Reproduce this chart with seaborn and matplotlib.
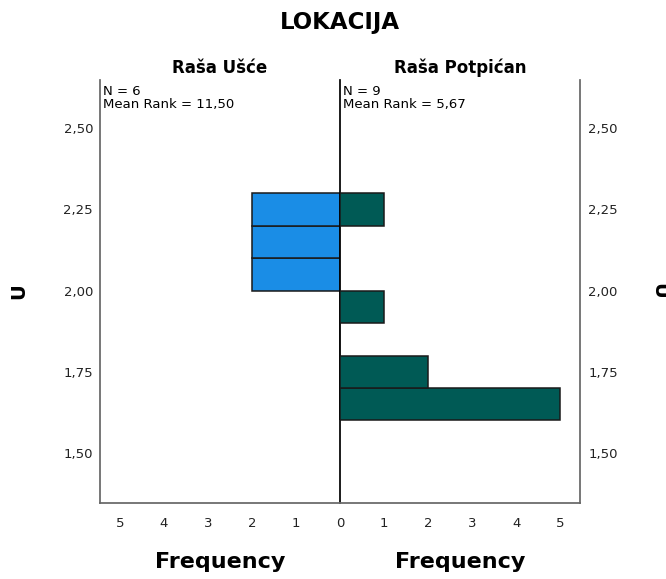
import numpy as np
import pandas as pd
import matplotlib
matplotlib.use("Agg")
import matplotlib.pyplot as plt
import seaborn as sns
from matplotlib.ticker import FuncFormatter

# ---- data ----
bin_edges = [1.6, 1.7, 1.8, 1.9, 2.0, 2.1, 2.2, 2.3]
bin_mids = [1.65, 1.75, 1.85, 1.95, 2.05, 2.15, 2.25]
counts_usce = [0, 0, 0, 0, 2, 2, 2]
counts_potpican = [5, 2, 0, 1, 0, 0, 1]
groups = ["Raša Ušće", "Raša Potpićan"]
n_labels = ["N = 6\nMean Rank = 11,50", "N = 9\nMean Rank = 5,67"]
freq_ticks_left = [1, 2, 3, 4, 5]
freq_ticks_right = [0, 1, 2, 3, 4, 5]
u_ticks = [1.50, 1.75, 2.00, 2.25, 2.50]
colors = ["#1a8de6", "#005a55"]

sns.set_theme(style="white")
plt.rcParams["font.family"] = ["DejaVu Sans"]
plt.rcParams["text.color"] = "black"
plt.rcParams["axes.labelcolor"] = "black"

W, H = 666, 579
fig = plt.figure(figsize=(W / 100, H / 100), dpi=100)

def rect(x0, y0, x1, y1):
    return [x0 / W, 1 - y1 / H, (x1 - x0) / W, (y1 - y0) / H]

axL = fig.add_axes(rect(100, 80, 340, 503))
axR = fig.add_axes(rect(340, 80, 580, 503))

fmt = FuncFormatter(lambda v, p: f"{v:.2f}".replace(".", ","))
ylim = (1.346, 2.648)

for ax, counts, col, xt in [(axL, counts_usce, colors[0], freq_ticks_left),
                            (axR, counts_potpican, colors[1], freq_ticks_right)]:
    df = pd.DataFrame({"U": bin_mids, "w": counts})
    sns.histplot(data=df, y="U", weights="w", bins=bin_edges, ax=ax,
                 color=col, alpha=1.0, edgecolor="#1a1a1a", linewidth=1.1)
    ax.set_ylim(*ylim)
    ax.set_xlim(0, 5.45)
    ax.set_xticks(xt)
    ax.set_yticks(u_ticks)
    ax.yaxis.set_major_formatter(fmt)
    ax.tick_params(axis="both", length=0, labelsize=9.5, colors="#222222")
    ax.tick_params(axis="x", pad=10)
    ax.set_xlabel("Frequency", fontsize=16, fontweight="bold", labelpad=16)
    ax.set_ylabel("")
    for s in ax.spines.values():
        s.set_visible(False)
    ax.patch.set_alpha(0)

axL.invert_xaxis()
axL.spines["left"].set_visible(True)
axL.spines["bottom"].set_visible(True)
axL.spines["right"].set_visible(True)
axL.spines["right"].set_color("black")
axL.spines["left"].set_color("#666666")
axL.spines["bottom"].set_color("#666666")
axR.spines["bottom"].set_visible(True)
axR.spines["bottom"].set_color("#666666")
axR.spines["right"].set_visible(True)
axR.spines["right"].set_color("#666666")
axR.yaxis.tick_right()
axR.tick_params(axis="y", labelright=True, labelleft=False, pad=6)
axL.tick_params(axis="y", pad=5)

for ax, g in [(axL, groups[0]), (axR, groups[1])]:
    ax.set_title(g, fontsize=12, fontweight="bold", pad=5)
axL.text(0.012, 0.987, n_labels[0], transform=axL.transAxes, fontsize=9.5,
         va="top", ha="left", linespacing=0.95)
axR.text(0.012, 0.987, n_labels[1], transform=axR.transAxes, fontsize=9.5,
         va="top", ha="left", linespacing=0.95)

fig.text(340 / W, 1 - 23 / H, "LOKACIJA", fontsize=16.5, fontweight="bold",
         ha="center", va="center")
fig.text(19 / W, 1 - 291 / H, "U", fontsize=14, fontweight="bold",
         rotation=90, ha="center", va="center")
fig.text(659 / W, 1 - 291 / H, "U", fontsize=14, fontweight="bold",
         rotation=-90, ha="center", va="center")

fig.savefig("out.png", dpi=100)
